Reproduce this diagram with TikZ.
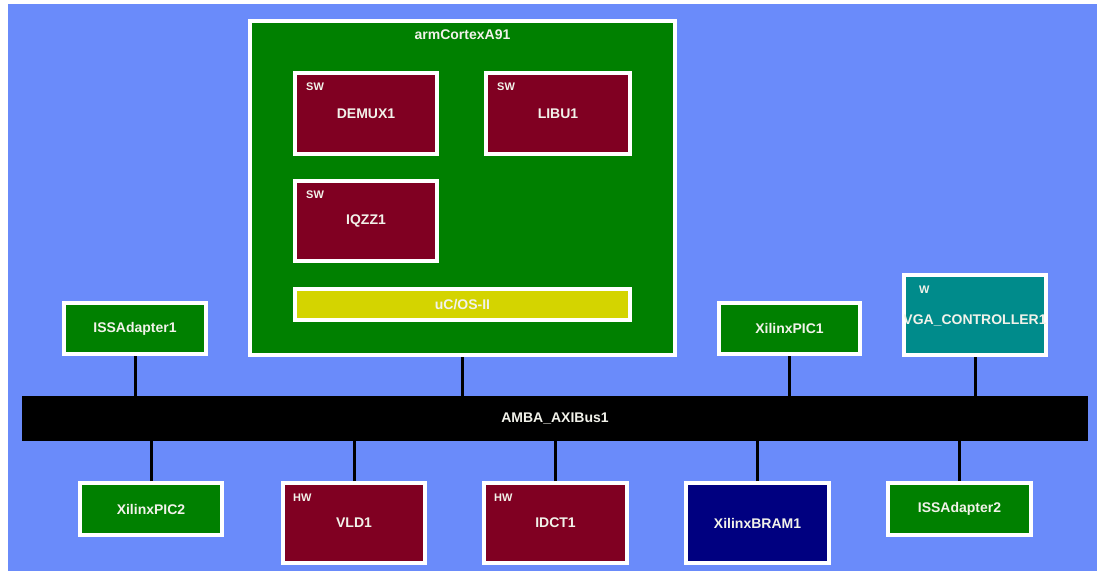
\documentclass[tikz,border=0pt]{standalone}
\usepackage{fontspec}
\setmainfont{Liberation Sans}
\usetikzlibrary{positioning}
\definecolor{canvas}{RGB}{106,139,250}
\definecolor{cpugreen}{RGB}{0,128,0}
\definecolor{taskred}{RGB}{128,0,34}
\definecolor{rtosyellow}{RGB}{212,212,0}
\definecolor{ipteal}{RGB}{0,139,139}
\definecolor{memnavy}{RGB}{0,0,128}
\definecolor{labelwhite}{RGB}{242,242,234}

\begin{document}
\begin{tikzpicture}[x=1pt,y=-1pt,
    unit/.style={draw=white,line width=4pt,inner sep=0pt,text=labelwhite,
                 font=\bfseries\fontsize{14}{16}\selectfont},
    tag/.style={anchor=north west,inner sep=0pt,text=labelwhite,
                font=\bfseries\fontsize{11}{12}\selectfont},
    title/.style={anchor=north,inner sep=0pt,yshift=-11pt,text=labelwhite,
                  font=\bfseries\fontsize{14}{16}\selectfont},
    link/.style={line width=3pt}]
 \useasboundingbox (0,0) rectangle (1097,571);
 \fill[canvas] (8,4) rectangle (1097,571);

 \node[unit,fill=cpugreen,minimum width=425pt,minimum height=334pt,
       label={[title]north:armCortexA91}] (arm) at (462.5,188) {};
 \node[unit,fill=taskred,minimum width=142pt,minimum height=81pt,
       label={[tag,xshift=13pt,yshift=-12pt]north west:SW}] (demux) at (366,113.5) {DEMUX1};
 \node[unit,fill=taskred,minimum width=144pt,minimum height=81pt,
       label={[tag,xshift=13pt,yshift=-12pt]north west:SW}] (libu) at (558,113.5) {LIBU1};
 \node[unit,fill=taskred,minimum width=142pt,minimum height=80pt,
       label={[tag,xshift=13pt,yshift=-12pt]north west:SW}] (iqzz) at (366,221) {IQZZ1};
 \node[unit,fill=rtosyellow,minimum width=335pt,minimum height=31pt] (rtos) at (462.5,304.5) {uC/OS-II};

 \node[unit,fill=cpugreen,minimum width=142pt,minimum height=51pt] (issA) at (135,328.5) {ISSAdapter1};
 \node[unit,fill=cpugreen,minimum width=141pt,minimum height=51pt] (pic1) at (789.5,328.5) {XilinxPIC1};
 \node[unit,fill=ipteal,minimum width=142pt,minimum height=80pt,
       label={[tag,xshift=17pt,yshift=-13pt]north west:W}] (vga) at (975,315) {};
 \begin{scope}
  \clip ([shift={(2pt,-2pt)}]vga.north west) rectangle ([shift={(-2pt,2pt)}]vga.south east);
  \node[unit,draw=none,yshift=-5pt] (vgaName) at (vga.center) {VGA\_CONTROLLER1};
 \end{scope}

 \node[unit,draw=none,outer sep=0pt,fill=black,minimum width=1066pt,minimum height=45pt] (bus) at (555,418.5) {AMBA\_AXIBus1};

 \node[unit,fill=cpugreen,minimum width=142pt,minimum height=52pt] (pic2) at (151,509) {XilinxPIC2};
 \node[unit,fill=taskred,minimum width=142pt,minimum height=80pt,
       label={[tag,xshift=12pt,yshift=-13pt]north west:HW}] (vld) at (354,523) {VLD1};
 \node[unit,fill=taskred,minimum width=143pt,minimum height=80pt,
       label={[tag,xshift=12pt,yshift=-13pt]north west:HW}] (idct) at (555.5,523) {IDCT1};
 \node[unit,fill=memnavy,minimum width=143pt,minimum height=80pt] (bram) at (757.5,523) {XilinxBRAM1};
 \node[unit,fill=cpugreen,minimum width=143pt,minimum height=52pt] (issB) at (959.5,509) {ISSAdapter2};

 \foreach \n in {issA,arm,pic1,vga}
   \draw[link] (\n.south) -- (\n.south |- bus.north);
 \foreach \n in {pic2,vld,idct,bram,issB}
   \draw[link] (\n.north) -- (\n.north |- bus.south);
\end{tikzpicture}
\end{document}
